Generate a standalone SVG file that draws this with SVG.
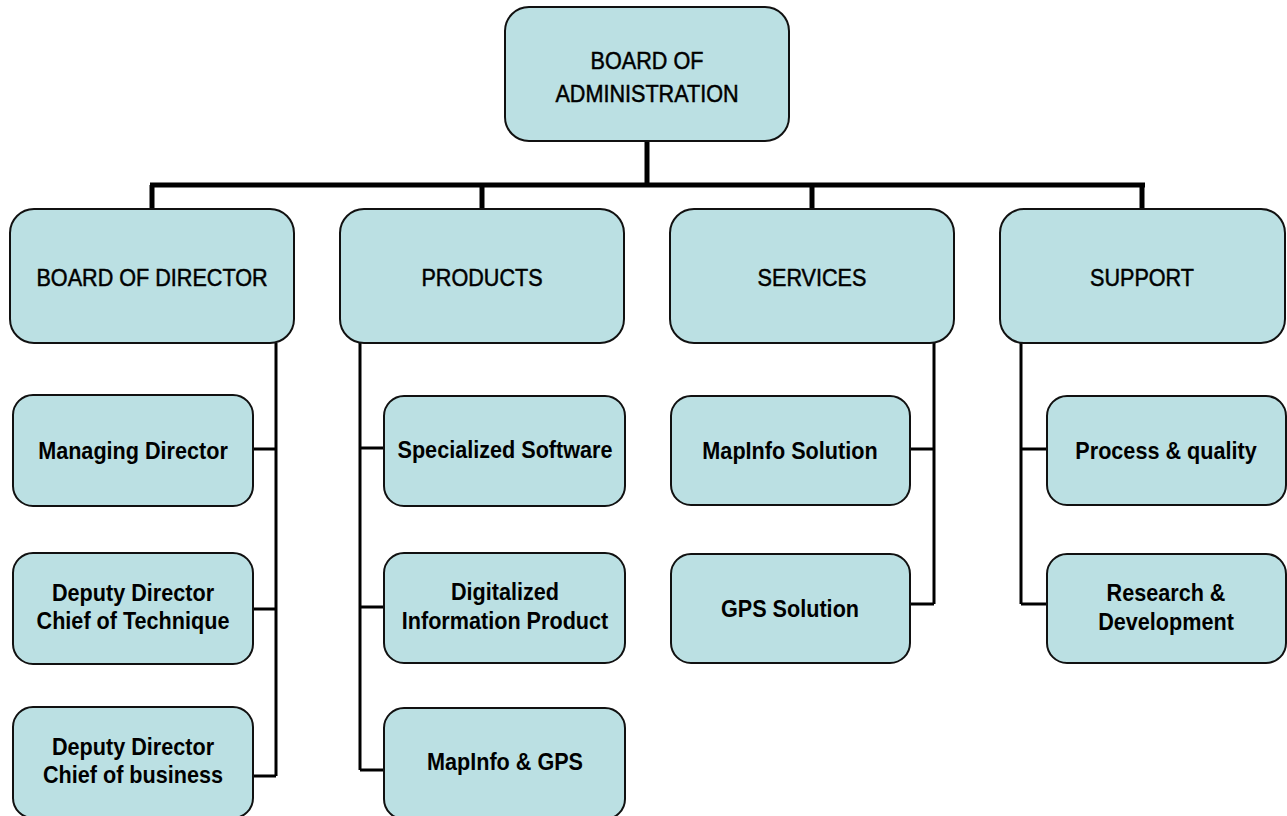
<svg xmlns="http://www.w3.org/2000/svg" width="1287" height="816" viewBox="0 0 1287 816">
<style>
.box{fill:#BBE0E3;stroke:#111;stroke-width:2}
.main{fill:none;stroke:#000;stroke-width:5}
.sub{fill:none;stroke:#000;stroke-width:3}
.t{font-family:"Liberation Sans",Arial,sans-serif;font-size:24px;fill:#000;stroke:#000;stroke-width:0.5;text-anchor:middle}
.b{font-family:"Liberation Sans",Arial,sans-serif;font-size:23px;font-weight:bold;fill:#000;text-anchor:middle}
</style>
<rect width="1287" height="816" fill="#fff"/>
<g id="connectors">
<path class="main" d="M647 141V185M150 185H1145M152 185V209M482 185V209M812 185V209M1142 185V209"/>
<path class="sub" d="M276 343V776M253 449H276M253 609H276M253 776H276"/>
<path class="sub" d="M360 343V770M360 448H384M360 607H384M360 770H384"/>
<path class="sub" d="M934 343V604M910 449H934M910 604H934"/>
<path class="sub" d="M1021 343V604M1021 449H1047M1021 604H1047"/>
</g>
<g id="board-admin">
<rect class="box" x="505" y="7" width="284" height="134" rx="24"/>
<text class="t" transform="translate(647,69) scale(0.9,1.03)">BOARD OF</text>
<text class="t" transform="translate(647,102) scale(0.9,1.03)">ADMINISTRATION</text>
</g>
<g id="board-director">
<rect class="box" x="10" y="209" width="284" height="134" rx="24"/>
<text class="t" transform="translate(152,286) scale(0.9,1.03)">BOARD OF DIRECTOR</text>
</g>
<g id="products">
<rect class="box" x="340" y="209" width="284" height="134" rx="24"/>
<text class="t" transform="translate(482,286) scale(0.9,1.03)">PRODUCTS</text>
</g>
<g id="services">
<rect class="box" x="670" y="209" width="284" height="134" rx="24"/>
<text class="t" transform="translate(812,286) scale(0.9,1.03)">SERVICES</text>
</g>
<g id="support">
<rect class="box" x="1000" y="209" width="285" height="134" rx="24"/>
<text class="t" transform="translate(1142,286) scale(0.9,1.03)">SUPPORT</text>
</g>
<g id="managing-director">
<rect class="box" x="13" y="395" width="240" height="111" rx="20"/>
<text class="b" transform="translate(133,459) scale(0.94,1)">Managing Director</text>
</g>
<g id="deputy-technique">
<rect class="box" x="13" y="553" width="240" height="111" rx="20"/>
<text class="b" transform="translate(133,601) scale(0.94,1)">Deputy Director</text>
<text class="b" transform="translate(133,629) scale(0.94,1)">Chief of Technique</text>
</g>
<g id="deputy-business">
<rect class="box" x="13" y="707" width="240" height="111" rx="20"/>
<text class="b" transform="translate(133,755) scale(0.94,1)">Deputy Director</text>
<text class="b" transform="translate(133,783) scale(0.94,1)">Chief of business</text>
</g>
<g id="specialized-software">
<rect class="box" x="384" y="396" width="241" height="110" rx="20"/>
<text class="b" transform="translate(505,458) scale(0.94,1)">Specialized Software</text>
</g>
<g id="digitalized-info">
<rect class="box" x="384" y="553" width="241" height="110" rx="20"/>
<text class="b" transform="translate(505,600) scale(0.94,1)">Digitalized</text>
<text class="b" transform="translate(505,629) scale(0.94,1)">Information Product</text>
</g>
<g id="mapinfo-gps">
<rect class="box" x="384" y="708" width="241" height="111" rx="20"/>
<text class="b" transform="translate(505,770) scale(0.94,1)">MapInfo &amp; GPS</text>
</g>
<g id="mapinfo-solution">
<rect class="box" x="671" y="396" width="239" height="109" rx="20"/>
<text class="b" transform="translate(790,459) scale(0.94,1)">MapInfo Solution</text>
</g>
<g id="gps-solution">
<rect class="box" x="671" y="554" width="239" height="109" rx="20"/>
<text class="b" transform="translate(790,617) scale(0.94,1)">GPS Solution</text>
</g>
<g id="process-quality">
<rect class="box" x="1047" y="396" width="239" height="109" rx="20"/>
<text class="b" transform="translate(1166,459) scale(0.94,1)">Process &amp; quality</text>
</g>
<g id="research-development">
<rect class="box" x="1047" y="554" width="239" height="109" rx="20"/>
<text class="b" transform="translate(1166,601) scale(0.94,1)">Research &amp;</text>
<text class="b" transform="translate(1166,630) scale(0.94,1)">Development</text>
</g>
</svg>
